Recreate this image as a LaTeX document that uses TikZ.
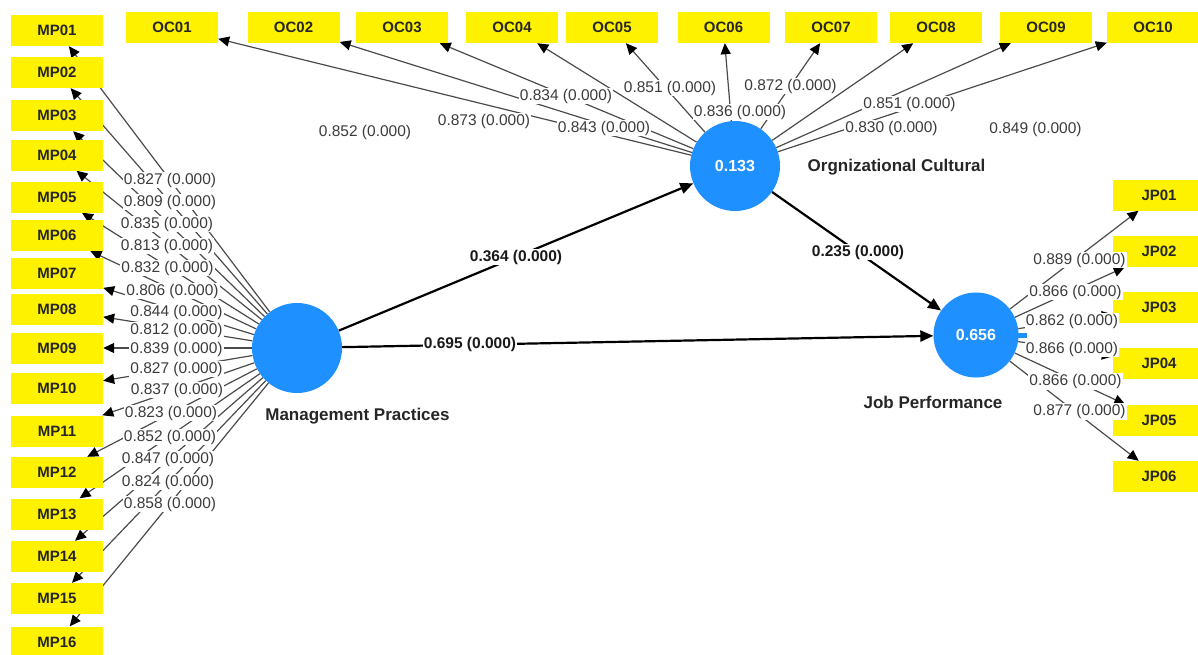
\documentclass[tikz,border=0pt]{standalone}
\usepackage{fontspec}
\setmainfont{Liberation Sans}
\usetikzlibrary{arrows.meta,calc}
\pgfdeclarelayer{bg}
\pgfdeclarelayer{fg}
\pgfsetlayers{bg,main,fg}
\definecolor{plsblue}{RGB}{30,144,255}
\definecolor{lblgray}{RGB}{60,60,60}
\definecolor{linegray}{RGB}{75,75,75}
\begin{document}
\begin{tikzpicture}[x=1pt,y=-1pt,
  ind/.style={fill=yellow, minimum width=92pt, minimum height=31pt, inner sep=0pt,
    text=black!85, font=\fontsize{15}{15}\selectfont\bfseries},
  lv/.style={circle, fill=plsblue, minimum size=90pt, inner sep=0pt, text=white,
    font=\fontsize{16}{16}\selectfont\bfseries},
  ld/.style={draw=linegray, line width=1.2pt, -{Triangle[length=11pt,width=10pt,color=black]}},
  pth/.style={draw=black, line width=2.2pt, -{Triangle[length=13pt,width=11pt]}},
  lbl/.style={fill=white, inner sep=1pt, text=lblgray, font=\fontsize{15.5}{15.5}\selectfont},
  plbl/.style={fill=white, inner sep=1pt, text=black!90, font=\fontsize{15.5}{15.5}\selectfont\bfseries},
  ttl/.style={text=black!85, font=\fontsize{17}{17}\selectfont\bfseries}]
\useasboundingbox (0,0) rectangle (1198,654);

% latent variables
\node[lv] (MP) at (297,348) {};
\node[lv] (OC) at (735,166) {0.133};
\node[lv, minimum size=85pt] (JP) at (976,335) {0.656};
\fill[plsblue] (1014,333) rectangle (1027,338);
\node[ttl] (tMP) at (357.5,416) {Management Practices};
\node[ttl] (tOC) at (896.5,167) {Orgnizational Cultural};
\node[ttl] (tJP) at (933,402) {Job Performance};

% indicators
\foreach \n/\y in {01/30.5,02/72.5,03/115.5,04/155,05/197,06/235.5,07/273.5,08/309.5,
                   09/348,10/388.5,11/431,12/472.5,13/514,14/556.5,15/598.5,16/642}
  \node[ind] (MP\n) at (57,\y) {MP\n};
\foreach \n/\x in {01/172,02/293.5,03/402,04/512,05/612,06/723.5,07/831,08/936,09/1046,10/1153}
  \node[ind] (OC\n) at (\x,27.5) {OC\n};
\foreach \n/\y in {01/195,02/251.5,03/307.5,04/363.5,05/420,06/476.5}
  \node[ind] (JP\n) at (1159,\y) {JP\n};

% connectors
\begin{pgfonlayer}{bg}
\foreach \n in {01,02,03,04,05,06,07,08,09,10,11,12,13,14,15,16}
  \draw[ld] (MP) -- (MP\n);
\foreach \n in {01,02,03,04,05,06,07,08,09,10}
  \draw[ld] (OC) -- (OC\n);
\foreach \n in {01,02,03,04,05,06}
  \draw[ld] (JP) -- (JP\n);
\draw[pth] (MP) -- (OC);
\draw[pth] (MP) -- (JP);
\draw[pth] (OC) -- (JP);
\end{pgfonlayer}

% labels
\begin{pgfonlayer}{fg}
\foreach \x/\y/\v [count=\i] in {170/180/0.827, 170/202/0.809, 167/224/0.835, 167/246/0.813,
    167.5/268/0.832, 172.5/291/0.806, 176.5/312/0.844, 176.5/330/0.812, 176.5/349/0.839,
    176.5/369/0.827, 177/390/0.837, 171/413/0.823, 170/437/0.852, 168/459/0.847,
    168/482/0.824, 170/504/0.858}
  \node[lbl] (lm\i) at (\x,\y) {\v{} (0.000)};
\foreach \x/\y/\v [count=\i] in {365/132/0.852, 484/121/0.873, 566/96/0.834, 604/128/0.843,
    670/88/0.851, 740/112/0.836, 790.5/86/0.872, 909.5/104/0.851, 891.5/128/0.830,
    1035.5/129/0.849}
  \node[lbl] (lo\i) at (\x,\y) {\v{} (0.000)};
\foreach \x/\y/\v [count=\i] in {1079.5/260/0.889, 1075.5/292/0.866, 1072/321.5/0.862,
    1072/349/0.866, 1075.5/381.5/0.866, 1079.5/411.5/0.877}
  \node[lbl] (lj\i) at (\x,\y) {\v{} (0.000)};
\node[plbl] (p1) at (516,257) {0.364 (0.000)};
\node[plbl] (p2) at (470,344) {0.695 (0.000)};
\node[plbl] (p3) at (858,252) {0.235 (0.000)};
\end{pgfonlayer}
\end{tikzpicture}
\end{document}
